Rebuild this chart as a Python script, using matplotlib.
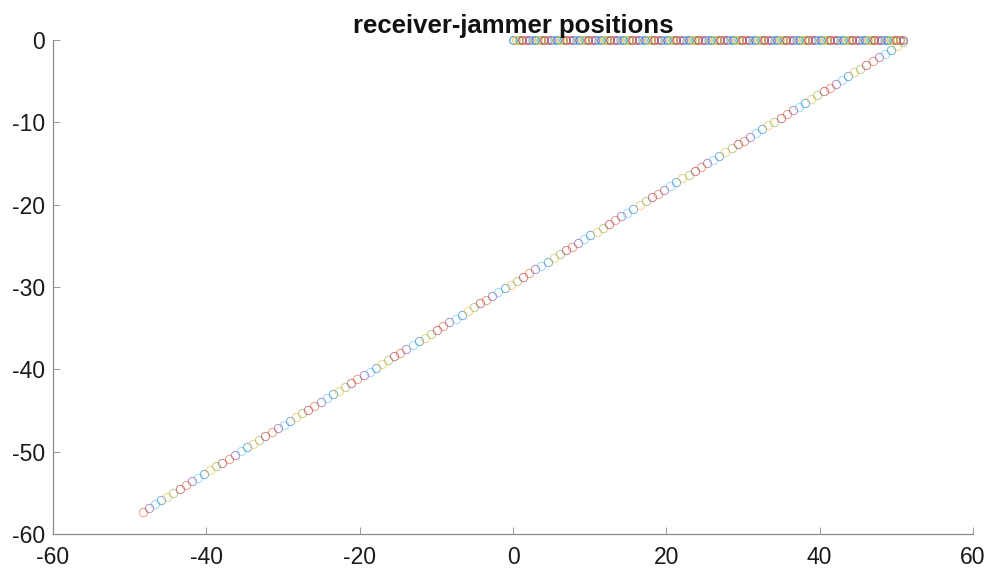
import matplotlib
matplotlib.use("Agg")
import matplotlib.pyplot as plt

plt.rcParams["font.family"] = ["Liberation Sans", "DejaVu Sans"]
plt.rcParams["axes.unicode_minus"] = False

# Jammer trajectory (x, y)
jammer_x = [
    -48.3, -47.5, -46.7, -45.9, -45.1, -44.3, -43.5, -42.7, -41.9, -41.1,
    -40.3, -39.5, -38.7, -37.9, -37.1, -36.3, -35.5, -34.7, -33.9, -33.1,
    -32.3, -31.5, -30.7, -29.9, -29.1, -28.3, -27.5, -26.7, -25.9, -25.1,
    -24.3, -23.5, -22.7, -21.9, -21.1, -20.3, -19.5, -18.7, -17.9, -17.1,
    -16.3, -15.5, -14.7, -13.9, -13.1, -12.3, -11.5, -10.7, -9.9, -9.1,
    -8.3, -7.5, -6.7, -5.9, -5.1, -4.3, -3.5, -2.7, -1.9, -1.1,
    -0.3, 0.5, 1.3, 2.1, 2.9, 3.7, 4.5, 5.3, 6.1, 6.9,
    7.7, 8.5, 9.3, 10.1, 10.9, 11.7, 12.5, 13.3, 14.1, 14.9,
    15.7, 16.5, 17.3, 18.1, 18.9, 19.7, 20.5, 21.3, 22.1, 22.9,
    23.7, 24.5, 25.3, 26.1, 26.9, 27.7, 28.5, 29.3, 30.1, 30.9,
    31.7, 32.5, 33.3, 34.1, 34.9, 35.7, 36.5, 37.3, 38.1, 38.9,
    39.7, 40.5, 41.3, 42.1, 42.9, 43.7, 44.5, 45.3, 46.1, 46.9,
    47.7, 48.5, 49.3, 50.1, 50.9,
]
jammer_y = [
    -57.3, -56.84, -56.38, -55.92, -55.46, -55.0, -54.54, -54.08, -53.62, -53.16,
    -52.7, -52.24, -51.78, -51.32, -50.86, -50.4, -49.94, -49.48, -49.02, -48.56,
    -48.1, -47.64, -47.18, -46.72, -46.26, -45.8, -45.34, -44.88, -44.42, -43.96,
    -43.5, -43.04, -42.58, -42.12, -41.66, -41.2, -40.74, -40.28, -39.82, -39.36,
    -38.9, -38.44, -37.98, -37.52, -37.06, -36.6, -36.14, -35.68, -35.22, -34.76,
    -34.3, -33.84, -33.38, -32.92, -32.46, -32.0, -31.54, -31.08, -30.62, -30.16,
    -29.7, -29.24, -28.78, -28.32, -27.86, -27.4, -26.94, -26.48, -26.02, -25.56,
    -25.1, -24.64, -24.18, -23.72, -23.26, -22.8, -22.34, -21.88, -21.42, -20.96,
    -20.5, -20.04, -19.58, -19.12, -18.66, -18.2, -17.74, -17.28, -16.82, -16.36,
    -15.9, -15.44, -14.98, -14.52, -14.06, -13.6, -13.14, -12.68, -12.22, -11.76,
    -11.3, -10.84, -10.38, -9.92, -9.46, -9.0, -8.54, -8.08, -7.62, -7.16,
    -6.7, -6.24, -5.78, -5.32, -4.86, -4.4, -3.94, -3.48, -3.02, -2.56,
    -2.1, -1.64, -1.18, -0.72, -0.26,
]

# Receiver trajectory (x, y)
receiver_x = [
    0.0, 0.41, 0.82, 1.23, 1.64, 2.05, 2.46, 2.87, 3.28, 3.69,
    4.1, 4.51, 4.92, 5.33, 5.74, 6.15, 6.56, 6.97, 7.38, 7.79,
    8.2, 8.61, 9.02, 9.43, 9.84, 10.25, 10.66, 11.07, 11.48, 11.89,
    12.3, 12.71, 13.12, 13.53, 13.94, 14.35, 14.76, 15.17, 15.58, 15.99,
    16.4, 16.81, 17.22, 17.63, 18.04, 18.45, 18.86, 19.27, 19.68, 20.09,
    20.5, 20.91, 21.32, 21.73, 22.14, 22.55, 22.96, 23.37, 23.78, 24.19,
    24.6, 25.01, 25.42, 25.83, 26.24, 26.65, 27.06, 27.47, 27.88, 28.29,
    28.7, 29.11, 29.52, 29.93, 30.34, 30.75, 31.16, 31.57, 31.98, 32.39,
    32.8, 33.21, 33.62, 34.03, 34.44, 34.85, 35.26, 35.67, 36.08, 36.49,
    36.9, 37.31, 37.72, 38.13, 38.54, 38.95, 39.36, 39.77, 40.18, 40.59,
    41.0, 41.41, 41.82, 42.23, 42.64, 43.05, 43.46, 43.87, 44.28, 44.69,
    45.1, 45.51, 45.92, 46.33, 46.74, 47.15, 47.56, 47.97, 48.38, 48.79,
    49.2, 49.61, 50.02, 50.43, 50.84,
]
receiver_y = [0.0] * len(receiver_x)

x_ticks = [-60, -40, -20, 0, 20, 40, 60]
y_ticks = [-60, -50, -40, -30, -20, -10, 0]
title_text = "receiver-jammer positions"

# MATLAB-style default colour order
color_order = ["#0072BD", "#D95319", "#EDB120", "#7E2F8E",
               "#77AC30", "#4DBEEE", "#A2142F"]

fig = plt.figure(figsize=(9.92, 5.70), dpi=100)
ax = fig.add_axes([53 / 992, 1 - 534 / 570, 920 / 992, 494 / 570])

# each time step: receiver point then jammer point, colours cycling per plot call
n = len(jammer_x)
rx_colors = [color_order[(2 * i) % 7] for i in range(n)]
jm_colors = [color_order[(2 * i + 1) % 7] for i in range(n)]
for i in range(n):
    ax.plot(receiver_x[i], receiver_y[i], "o", ms=5.5, mfc="none",
            mec=rx_colors[i], mew=0.9, alpha=0.65, clip_on=False)
    ax.plot(jammer_x[i], jammer_y[i], "o", ms=6.0, mfc="none",
            mec=jm_colors[i], mew=0.7, alpha=0.55, clip_on=False)

ax.set_xlim(-60, 60)
ax.set_ylim(-60, 0)
ax.set_xticks(x_ticks)
ax.set_yticks(y_ticks)
ax.tick_params(direction="in", length=5, width=0.6, color="#8a8a8a",
               labelsize=16.5, labelcolor="#1a1a1a")
ax.tick_params(axis="x", pad=9)
ax.tick_params(axis="y", pad=6)
for side in ("top", "right"):
    ax.spines[side].set_visible(False)
for side in ("left", "bottom"):
    ax.spines[side].set_color("#8a8a8a")
    ax.spines[side].set_linewidth(0.9)

fig.text(513 / 992, 1 - 33 / 570, title_text, ha="center", va="baseline",
         fontsize=18.5, fontweight="bold", color="#111111")

fig.savefig("out.png", dpi=100)
